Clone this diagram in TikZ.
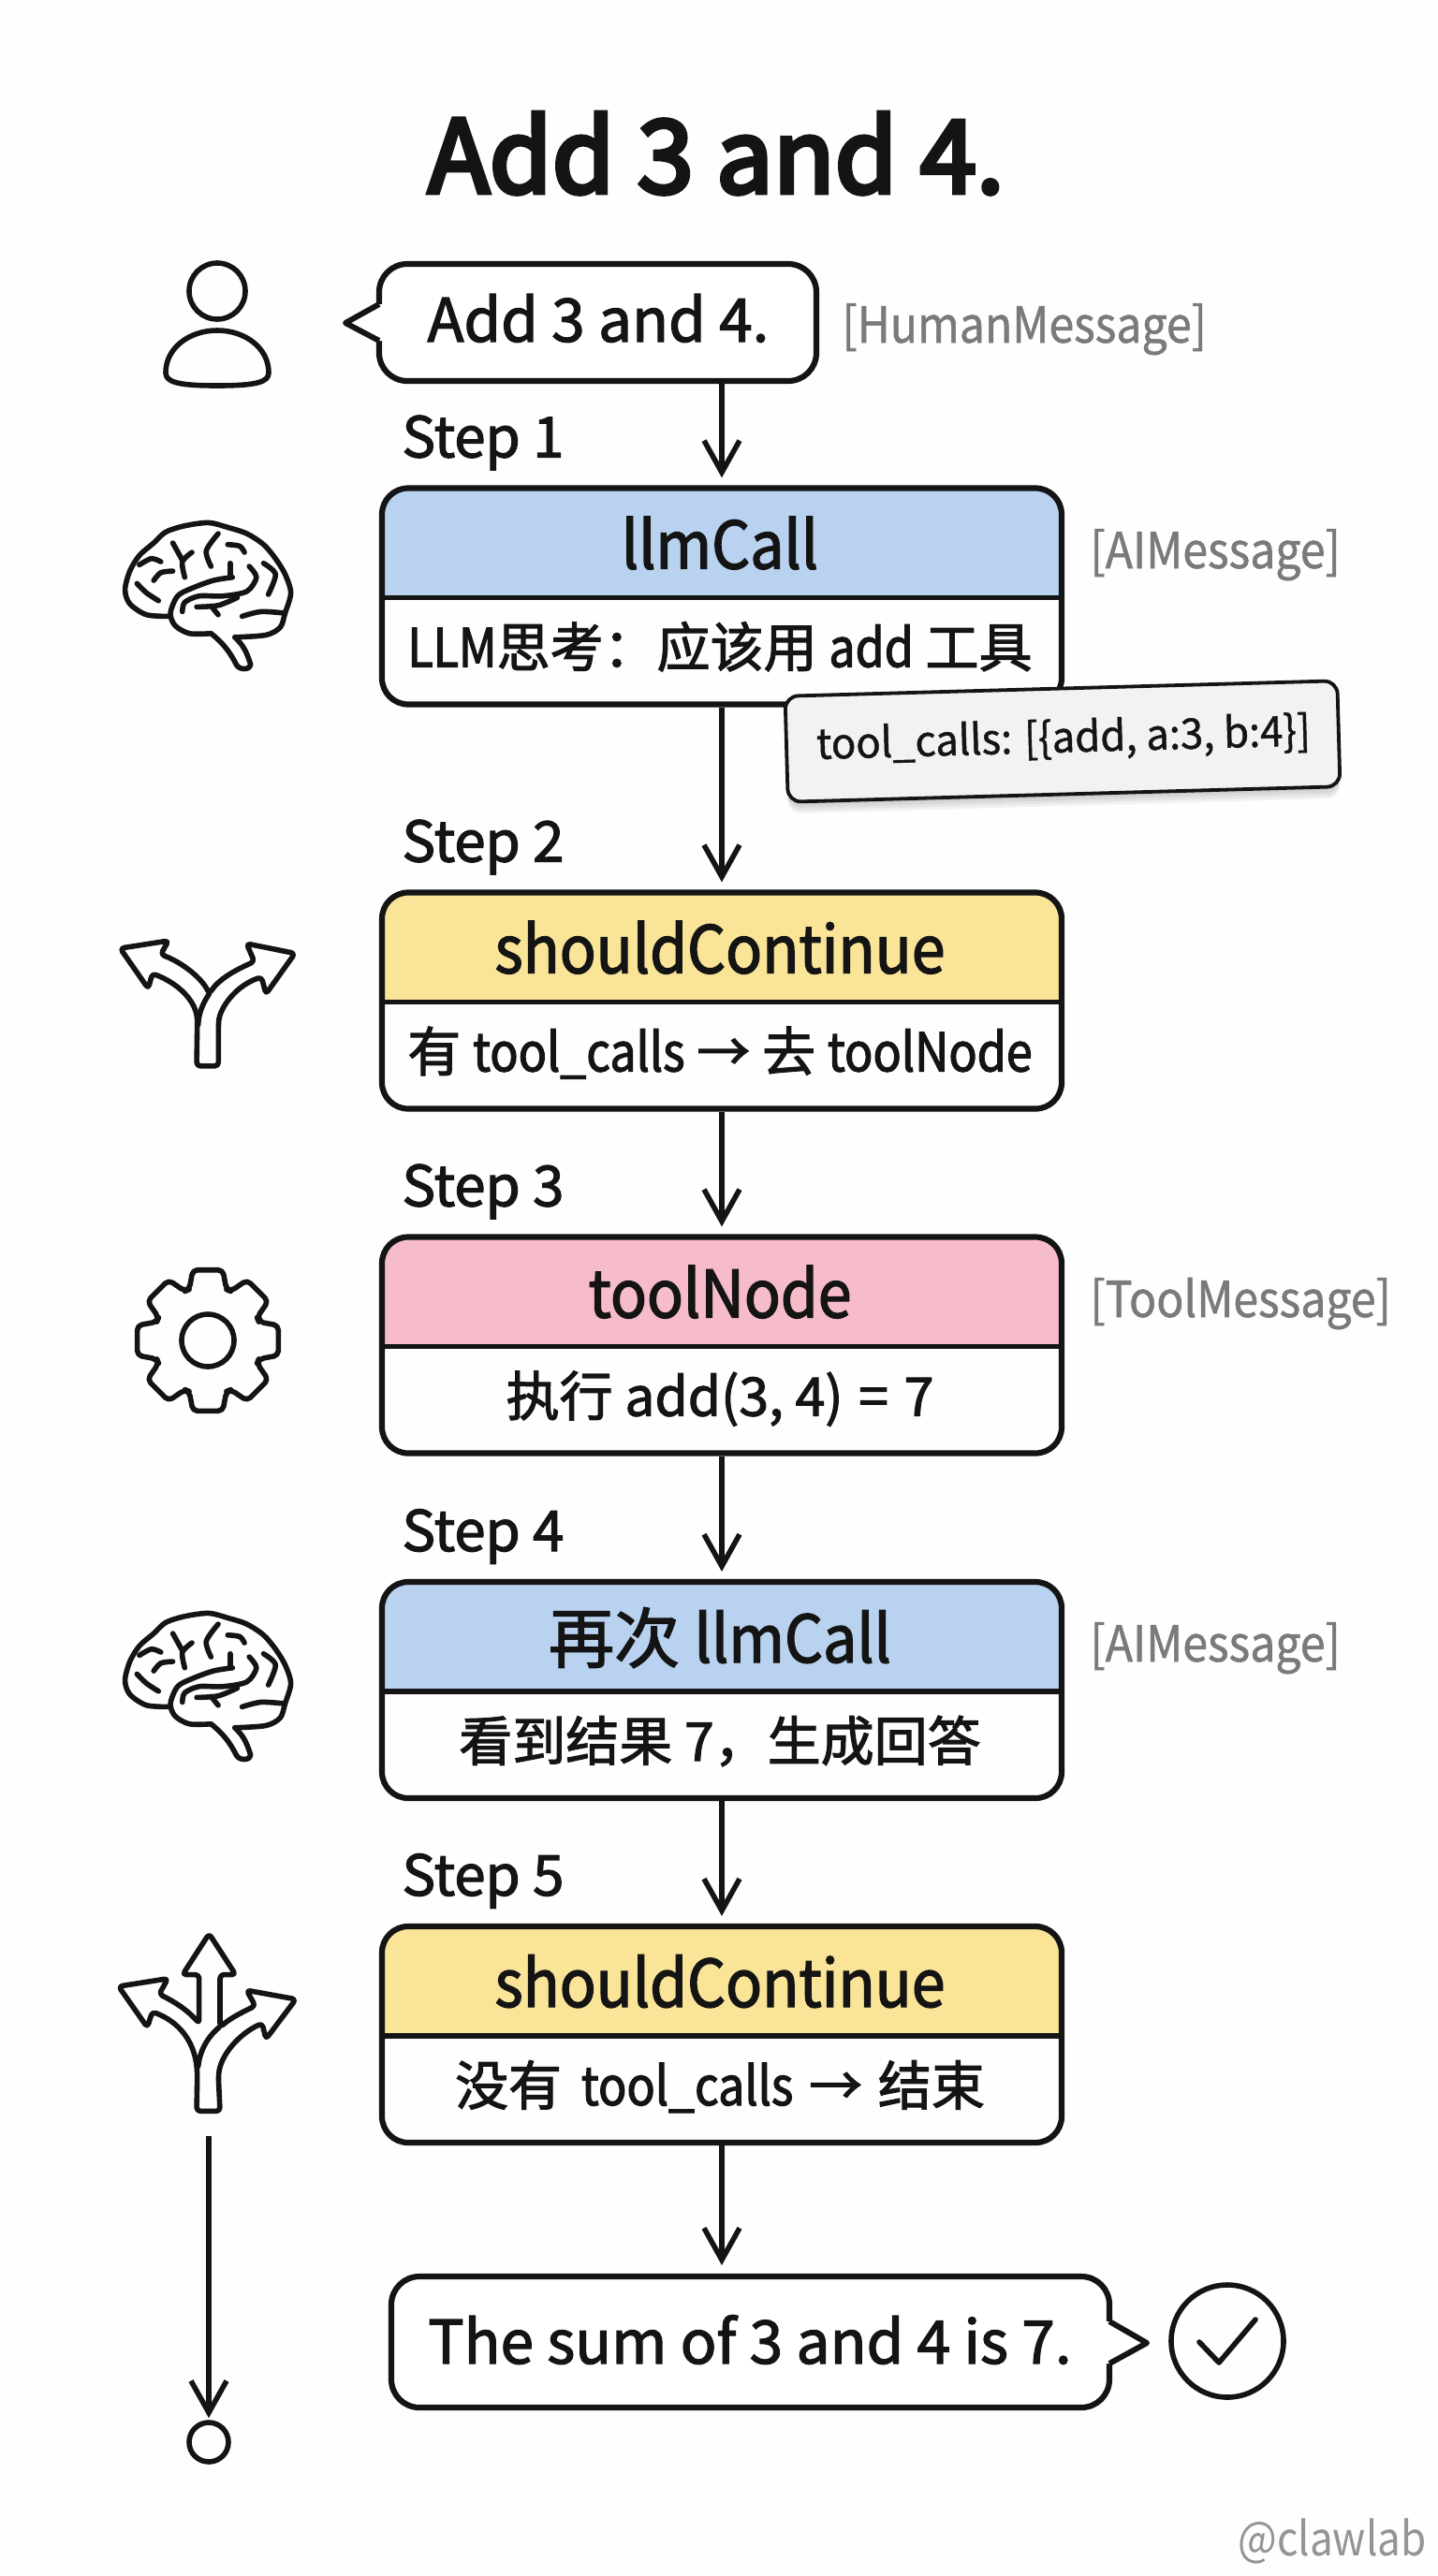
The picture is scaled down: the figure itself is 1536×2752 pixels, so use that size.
\documentclass[tikz,border=0pt]{standalone}
\usepackage{fontspec}
\setmainfont{Noto Sans CJK SC}
\newfontfamily\med{Noto Sans CJK SC}[FakeBold=2]
\newfontfamily\ttlf{Noto Sans CJK SC}[FakeBold=4.5]
\newfontfamily\hdrn{Noto Sans CJK SC}[FakeBold=2,FakeStretch=.92]
\newfontfamily\bodn{Noto Sans CJK SC}[FakeBold=2,FakeStretch=.88]
\newfontfamily\tagn{Noto Sans CJK SC}[FakeBold=1,FakeStretch=.91]
\newfontfamily\tcn{Noto Sans CJK SC}[FakeBold=1,FakeStretch=.97]
\newfontfamily\wmn{Noto Sans CJK SC}[FakeStretch=.88]
\newcommand\fsz[1]{\fontsize{#1}{#1}\selectfont}
\usetikzlibrary{arrows.meta}
\definecolor{pageb}{HTML}{FEFEFE}
\definecolor{ink}{HTML}{141414}
\definecolor{cblue}{HTML}{B8D2F0}
\definecolor{cyellow}{HTML}{F9E498}
\definecolor{cpink}{HTML}{F6BCC9}
\definecolor{graytxt}{HTML}{7A7A7A}
\tikzset{
  frame/.style={draw=ink,line width=3.1pt,rounded corners=14pt,minimum width=363pt,minimum height=115.5pt,inner sep=0pt},
  bubble/.style={draw=ink,line width=3.1pt,rounded corners=15pt,fill=white,inner sep=0pt},
  hdrtxt/.style={anchor=base,font=\med\fsz{35},text=ink,inner sep=0pt},
  bodytxt/.style={anchor=base,font=\med\fsz{28.5},text=ink,inner sep=0pt},
  steplabel/.style={anchor=base west,font=\med\fsz{30},text=ink,inner sep=0pt},
  taglabel/.style={anchor=base west,font=\tagn\fsz{26.5},text=graytxt,inner sep=0pt},
  conn/.style={draw=ink,line width=2.8pt,-{Straight Barb[length=17pt,width=19pt,line width=2.8pt]},shorten >=4pt},
  icon/.style={draw=ink,line width=2.8pt,line join=round,line cap=round},
  iconr/.style={icon,rounded corners=2pt},
}
\newcommand\flowbox[6]{%
  \begin{scope}
    \clip (408,#2) rectangle (1134,#2+117);
    \fill[#3,rounded corners=14pt] (408,#2) rectangle (1134,#2+231);
  \end{scope}
  \node[frame] (#1) at (771,#2+115.5) {};
  \coordinate (#1dl) at (408,#2+117);
  \coordinate (#1dr) at (1134,#2+117);
  \draw[draw=ink,line width=2.9pt] (#1dl) -- (#1dr);
  \node[hdrtxt] (#1h) at (769,#2+86) {#4};
  \node[bodytxt] (#1b) at (769,#2+191) {#5};
  \node[steplabel] (#1s) at (429,#2-33) {Step #6};
}
\newcommand\brainicon[2]{%
  \begin{scope}[shift={(80,#2)},x=0.2551pt,y=-0.1667pt]
    \draw[icon] plot[smooth] coordinates {(200,1255)(150,1250)(115,1215)(105,1170)(115,1110)(135,1060)(165,1020)(190,985)(230,965)(280,955)(320,970)(360,990)(395,1025)(420,1070)(440,1120)(452,1180)(440,1245)(430,1290)(400,1315)(335,1322)};
    \draw[icon] (335,1322) .. controls (350,1345) and (358,1360) .. (368,1410) .. controls (368,1425) and (345,1430) .. (338,1410) .. controls (325,1370) and (310,1340) .. (285,1310);
    \draw[icon] plot[smooth] coordinates {(285,1310)(240,1310)(210,1285)(200,1245)(215,1190)(245,1165)(290,1140)(330,1130)};
    \draw[icon] (325,1085) -- (325,1130);
    \draw[icon] plot[smooth] coordinates {(225,1240)(230,1210)(260,1190)(310,1190)(360,1175)(380,1130)(365,1095)};
    \draw[icon] plot[smooth] coordinates {(255,1225)(300,1220)(340,1195)};
    \draw[icon] (285,1222) -- (300,1250);
    \draw[icon] plot[smooth] coordinates {(350,1255)(390,1240)(440,1245)};
    \draw[icon] plot[smooth] coordinates {(285,1095)(275,1045)(300,990)};
    \draw[icon] plot[smooth] coordinates {(230,1130)(225,1080)(245,1050)};
    \draw[icon] (205,1020) -- (225,1075);
    \draw[icon] plot[smooth] coordinates {(320,1025)(345,1030)(355,1050)};
    \draw[icon] plot[smooth] coordinates {(135,1090)(160,1070)(180,1080)};
    \draw[icon] plot[smooth] coordinates {(165,1140)(180,1115)(205,1110)};
    \draw[icon] plot[smooth] coordinates {(130,1150)(150,1180)(175,1205)};
    \draw[icon] plot[smooth] coordinates {(395,1085)(420,1120)(405,1185)};
  \end{scope}
}
\begin{document}
\begin{tikzpicture}[x=0.5pt,y=-0.5pt]
\useasboundingbox (0,0) rectangle (1536,2752);
\fill[pageb] (0,0) rectangle (1536,2752);

% title
\node[anchor=base,font=\ttlf\fsz{54},text=ink,inner sep=0pt] (title) at (765,206) {Add 3 and 4.};

% human bubble
\node[bubble,minimum width=233.5pt,minimum height=62.5pt] (q) at (638.5,344.5) {};
\coordinate (qa) at (405,325);
\coordinate (qt) at (369,345);
\coordinate (qb) at (405,364);
\fill[white] (qa) -- (qt) -- (qb) -- (411,364) -- (411,325) -- cycle;
\draw[icon,line width=3pt,line cap=butt] (qa) -- (qt) -- (qb);
\node[anchor=base,font=\med\fsz{32},text=ink,inner sep=0pt] (qtxt) at (639,365) {Add 3 and 4.};
\node[taglabel] (humtag) at (899,366) {[HumanMessage]};

% person icon
\draw[icon] (232,311) circle [x radius=30,y radius=30];
\draw[icon] (177,398) .. controls (177,372) and (202,353) .. (232,353) .. controls (262,353) and (287,372) .. (287,398) .. controls (287,408) and (275,412) .. (232,412) .. controls (189,412) and (177,408) .. (177,398) -- cycle;

% flow boxes
\flowbox{bx1}{521.5}{cblue}{{\hdrn llmCall}}{{\bodn LLM}思考：应该用 {\bodn add} 工具}{1}
\flowbox{bx2}{953.5}{cyellow}{{\hdrn shouldContinue}}{有 {\bodn tool\_calls} → 去 {\bodn toolNode}}{2}
\flowbox{bx3}{1321.5}{cpink}{{\hdrn toolNode}}{执行 add(3, 4)\hspace{2pt} =\hspace{2pt} 7}{3}
\flowbox{bx4}{1690}{cblue}{再次 {\hdrn llmCall}}{看到结果 7，生成回答}{4}
\flowbox{bx5}{2058}{cyellow}{{\hdrn shouldContinue}}{没有\hspace{4pt} {\bodn tool\_calls}\hspace{2pt} →\hspace{2pt} 结束}{5}

\node[taglabel] (aitag1) at (1164,607) {[AIMessage]};
\node[taglabel] (tooltag) at (1164,1407) {[ToolMessage]};
\node[taglabel] (aitag2) at (1164,1775) {[AIMessage]};

% final bubble
\node[bubble,minimum width=383.5pt,minimum height=70pt] (ans) at (801.5,2502) {};
\coordinate (aa) at (1185,2480);
\coordinate (at) at (1225,2503);
\coordinate (ab) at (1185,2525);
\fill[white] (aa) -- (at) -- (ab) -- (1179,2525) -- (1179,2480) -- cycle;
\draw[icon,line width=3pt,line cap=butt] (aa) -- (at) -- (ab);
\node[anchor=base,font=\med\fsz{32},text=ink,inner sep=0pt] (anstxt) at (801,2525) {The sum of 3 and 4 is 7.};

% connectors
\draw[conn] (q.south -| bx1.north) -- (bx1.north);
\draw[conn] (bx1.south) -- (bx2.north);
\draw[conn] (bx2.south) -- (bx3.north);
\draw[conn] (bx3.south) -- (bx4.north);
\draw[conn] (bx4.south) -- (bx5.north);
\coordinate (anstop) at (771,2428);
\draw[conn] (bx5.south) -- (anstop);

% tool calls tag
\foreach \s in {3,6,9,12}{
  \fill[black,opacity=.05,rounded corners=7pt,rotate around={1.6:(1135,792+\s)}] (840,735+\s) rectangle (1430,849+\s);
}
\node[draw=ink,line width=1.9pt,fill=black!5,rounded corners=7pt,minimum width=295pt,minimum height=56.5pt,inner sep=0pt,rotate=1.6] (tc) at (1135,792) {};
\node[anchor=center,font=\tcn\fsz{22.5},text=ink,inner sep=0pt,rotate=1.6] (tctxt) at (1136,790) {tool\_calls: [\{add, a:3, b:4\}]};

% brain icons
\brainicon{bi1}{240}
\brainicon{bi2}{1405}

% two way fork
\begin{scope}[shift={(80,960)},x=0.1667pt,y=-0.1923pt]
  \draw[iconr] (390,465) -- (460,465) -- (460,350) .. controls (465,300) and (520,240) .. (598,218) -- (612,265) -- (705,152) -- (550,125) -- (575,175) .. controls (510,200) and (460,225) .. (430,265) .. controls (410,225) and (350,180) .. (275,155) -- (300,117) -- (145,138) -- (235,250) -- (248,208) .. controls (330,235) and (392,285) .. (392,350) -- cycle;
  \draw[icon] (430,265) .. controls (410,290) and (396,320) .. (395,350);
\end{scope}

% gear
\begin{scope}[shift={(222,1432)}]
  \draw[icon,rounded corners=2.5pt] (-20:58) foreach \a in {0,45,...,315}{ -- (\a-20:58) -- (\a-12:77) -- (\a+12:77) -- (\a+20:58)} -- cycle;
  \draw[icon] (0,0) circle [x radius=28,y radius=28];
\end{scope}

% three way fork
\begin{scope}[shift={(80,2020)},x=0.1667pt,y=-0.2083pt]
  \draw[iconr] (390,565) -- (465,565) -- (460,480) .. controls (465,420) and (530,365) .. (600,340) -- (612,380) -- (708,278) -- (550,255) -- (578,295) .. controls (540,310) and (500,325) .. (465,350) -- (465,215) -- (515,215) -- (430,110) -- (345,215) -- (398,215) -- (398,340) .. controls (360,305) and (320,285) .. (270,265) -- (298,225) -- (140,245) -- (232,350) -- (248,310) .. controls (330,335) and (390,385) .. (392,480) -- cycle;
  \draw[icon] (462,350) .. controls (425,375) and (400,410) .. (395,450);
\end{scope}

% end arrow and dot
\coordinate (endstart) at (223,2282);
\node[draw=ink,line width=2.8pt,circle,minimum size=21pt,inner sep=0pt] (enddot) at (223,2609) {};
\draw[conn,shorten >=1pt] (endstart) -- (enddot.north);

% check
\draw[icon] (1311,2501) circle [x radius=60,y radius=60];
\coordinate (c1) at (1281,2502);
\coordinate (c2) at (1302,2524);
\coordinate (c3) at (1341,2478);
\draw[icon] (c1) -- (c2) -- (c3);

\node[anchor=base east,font=\wmn\fsz{25},text=black!42,inner sep=0pt] (wm) at (1524,2730) {@clawlab};
\end{tikzpicture}
\end{document}
